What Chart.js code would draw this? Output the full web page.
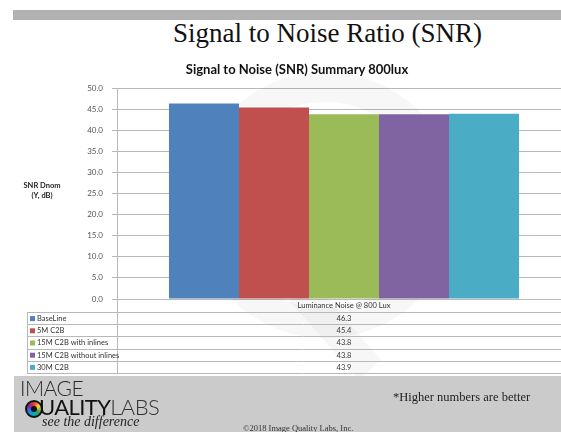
<!DOCTYPE html>
<html>
<head>
<meta charset="utf-8">
<script src="https://cdn.jsdelivr.net/npm/chart.js@4"></script>
<style>
  html, body { margin: 0; padding: 0; background: #fff; overflow: hidden; width: 561px; height: 432px; }
  #topbar { position: absolute; left: 13px; top: 10px; width: 548px; height: 10px; background: #b2b2b2; }
  #slideTitle { position: absolute; left: 0; width: 655px; top: 18px; text-align: center;
    font-family: "Liberation Serif", serif; font-size: 27px; color: #111; }
  #chartTitle { position: absolute; left: 0; width: 594px; top: 61px; text-align: center;
    font-family: Lato, "Open Sans", sans-serif; font-weight: bold; font-size: 13px; color: #111; }
  #yTitle { position: absolute; left: 20px; width: 44px; top: 181px; text-align: center;
    font-family: Lato, sans-serif; font-weight: bold; font-size: 7.5px; line-height: 10px; color: #222; }
  #chartWrap { position: absolute; left: 0; top: 0; }
  #footer { position: absolute; left: 14px; top: 376px; width: 547px; height: 56px; background: #cbcbcb; }
  #logoImage { position: absolute; left: 20px; top: 375px; font-family: Lato, sans-serif; font-weight: 300;
    font-size: 21px; color: #2a2a2a; letter-spacing: -0.5px; }
  #logoQuality { position: absolute; left: 22px; top: 393px; font-family: Lato, sans-serif;
    font-size: 22px; color: #111; letter-spacing: -0.6px; white-space: nowrap; }
  #logoQuality .thin { font-weight: 300; color: #333; }
  #qring { position: absolute; left: 25px; top: 400px; width: 14px; height: 14px; border-radius: 50%;
    background: conic-gradient(#e53935, #fdd835, #43a047, #00acc1, #1e88e5, #8e24aa, #e53935);
    border: 2px solid #111; }
  #qring::after { content: ""; position: absolute; left: 4px; top: 4px; width: 6px; height: 6px; border-radius: 50%; background: #111; }
  #logoSee { position: absolute; left: 42px; top: 414px; font-family: "Liberation Serif", serif; font-style: italic;
    font-size: 14px; color: #222; }
  #higher { position: absolute; left: 393px; top: 390px; font-family: "Liberation Serif", serif; font-size: 12.5px; color: #222; }
  #copy { position: absolute; left: 243px; top: 423px; font-family: "Liberation Serif", serif; font-size: 8.5px; color: #333; }
</style>
</head>
<body>
<div id="topbar"></div>
<div id="slideTitle">Signal to Noise Ratio (SNR)</div>
<div id="chartWrap"><canvas id="myChart" width="580" height="432"></canvas></div>
<div id="chartTitle">Signal to Noise (SNR) Summary 800lux</div>
<div id="yTitle">SNR Dnom<br>(Y, dB)</div>
<div id="footer"></div>
<div id="logoImage">IMAGE</div>
<div id="logoQuality"><span style="visibility:hidden">Q</span>UALITY<span class="thin">LABS</span></div>
<div id="qring"></div>
<div id="logoSee">see the difference</div>
<div id="higher">*Higher numbers are better</div>
<div id="copy">©2018 Image Quality Labs, Inc.</div>

<script>
const categories = ['Luminance Noise @ 800 Lux']
const seriesNames = ['BaseLine', '5M C2B', '15M C2B with inlines', '15M C2B without inlines', '30M C2B']
const seriesValues = [46.3, 45.4, 43.8, 43.8, 43.9]
const yMin = 0, yMax = 50, yStep = 5

const barColors = ['#4f81bd', '#c0504d', '#9bbb59', '#8064a2', '#4bacc6']
const gridColor = '#b8b8b8'

// faint "Q" watermark behind the plot
const watermark = {
  id: 'watermark',
  beforeDatasetsDraw(chart) {
    const ctx = chart.ctx
    ctx.save()
    ctx.strokeStyle = 'rgba(0,0,0,0.03)'
    ctx.lineWidth = 30
    ctx.beginPath()
    ctx.arc(325, 205, 118, 0, Math.PI * 2)
    ctx.stroke()
    ctx.beginPath()
    ctx.moveTo(300, 290)
    ctx.lineTo(370, 370)
    ctx.stroke()
    ctx.restore()
  }
}

// data table under the axis
const dataTable = {
  id: 'dataTable',
  afterDraw(chart) {
    const ctx = chart.ctx
    const area = chart.chartArea
    const xs = chart.scales.x
    const top = xs.bottom
    const rowH = 12.2
    const left = 27
    const right = chart.width
    const n = chart.data.datasets.length
    const bottom = top + rowH * n
    ctx.save()
    ctx.strokeStyle = gridColor
    ctx.lineWidth = 1
    for (let i = 0; i <= n; i++) {
      const y = Math.round(top + i * rowH) + 0.5
      ctx.beginPath(); ctx.moveTo(left, y); ctx.lineTo(right, y); ctx.stroke()
    }
    ctx.beginPath(); ctx.moveTo(left + 0.5, top); ctx.lineTo(left + 0.5, bottom); ctx.stroke()
    ctx.beginPath(); ctx.moveTo(Math.round(area.left) + 0.5, area.bottom); ctx.lineTo(Math.round(area.left) + 0.5, bottom); ctx.stroke()

    ctx.font = '7.5px Lato, sans-serif'
    ctx.textBaseline = 'middle'
    chart.data.datasets.forEach((ds, i) => {
      const cy = top + i * rowH + rowH / 2 + 0.5
      ctx.fillStyle = ds.backgroundColor
      ctx.fillRect(left + 3, cy - 2.5, 5, 5)
      ctx.fillStyle = '#333'
      ctx.textAlign = 'left'
      ctx.fillText(ds.label, left + 10, cy)
      ctx.textAlign = 'center'
      ctx.fillText(ds.data[0].toFixed(1), xs.getPixelForValue(0), cy)
    })
    ctx.restore()
  }
}

const ctx = document.getElementById('myChart')

new Chart(ctx, {
  type: 'bar',
  data: {
    labels: categories,
    datasets: seriesNames.map((name, i) => ({
      label: name,
      data: [seriesValues[i]],
      backgroundColor: barColors[i],
      borderWidth: 0
    }))
  },
  options: {
    responsive: false,
    animation: false,
    devicePixelRatio: 1,
    layout: { padding: { left: 0, top: 88, right: 9, bottom: 120 } },
    categoryPercentage: 0.771,
    barPercentage: 1,
    plugins: { legend: { display: false }, tooltip: { enabled: false } },
    scales: {
      x: {
        grid: { display: false, drawTicks: false },
        border: { display: true, color: gridColor },
        ticks: { color: '#333', font: { family: 'Lato', size: 7.5 }, padding: 2 },
        afterFit(scale) { scale.height = 13 }
      },
      y: {
        min: yMin,
        max: yMax,
        grid: { color: gridColor, lineWidth: 1, tickLength: 5 },
        border: { display: true, color: gridColor },
        ticks: {
          stepSize: yStep,
          color: '#555',
          font: { family: 'Lato', size: 8 },
          padding: 9,
          callback: v => v.toFixed(1)
        },
        afterFit(scale) { scale.width = 117 }
      }
    }
  },
  plugins: [watermark, dataTable]
})
</script>
</body>
</html>
